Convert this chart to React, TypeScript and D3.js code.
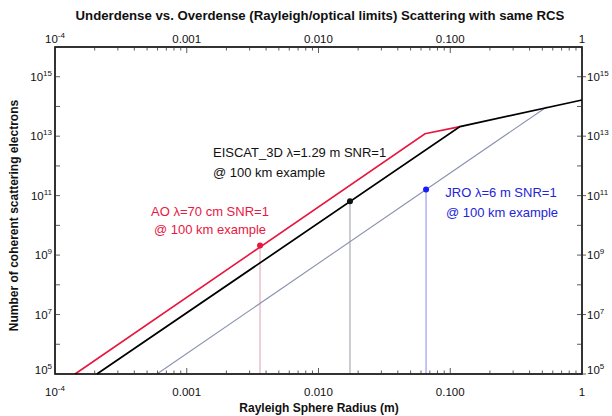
import React from "react";
import * as d3 from "d3";

const title = "Underdense vs. Overdense (Rayleigh/optical limits) Scattering with same RCS";
const xTitle = "Rayleigh Sphere Radius (m)";
const yTitle = "Number of coherent scattering electrons";

const xTickValues = [1e-4, 1e-3, 1e-2, 1e-1, 1];
const xTickLabels = ["10^-4", "0.001", "0.010", "0.100", "1"];
const yTickExponents = [5, 7, 9, 11, 13, 15];

// curves: sphere radius (m) vs electrons, Rayleigh -> optical
const aoRadius = [1.42e-4, 0.0643, 0.1186];
const aoElectrons = [1e5, 1.2e13, 2.1e13];
const eiscatRadius = [2.08e-4, 0.1186, 1];
const eiscatElectrons = [1e5, 2.1e13, 1.65e14];
const jroRadius = [5.94e-4, 0.542];
const jroElectrons = [1e5, 9.8e13];

// SNR=1 @ 100 km points
const markerRadius = [0.0036, 0.01734, 0.0655];
const markerElectrons = [2.1e9, 6.5e10, 1.6e11];

const aoLabel = ["AO \u03bb=70 cm SNR=1", "@ 100 km example"];
const eiscatLabel = ["EISCAT_3D \u03bb=1.29 m SNR=1", "@ 100 km example"];
const jroLabel = ["JRO \u03bb=6 m SNR=1", "@ 100 km example"];

const FONT = "'Liberation Sans', Arial, Helvetica, sans-serif";
const RED = "#e8173f";
const BLUE = "#2424d8";

const W = 612, H = 416;
const m = { left: 55, right: 30, top: 47, bottom: 42 };

function Pow({ x, y, base, exp, anchor }: { x: number; y: number; base: string; exp: string; anchor: string }) {
  return (
    <text x={x} y={y} textAnchor={anchor} fontSize={11.5} fontFamily={FONT} fill="#111">
      {base}
      <tspan dy={-5} fontSize={8}>{exp}</tspan>
    </text>
  );
}

export default function App() {
  const x = d3.scaleLog().domain([1e-4, 1]).range([m.left, W - m.right]);
  const y = d3.scaleLog().domain([1e5, 1e16]).range([H - m.bottom, m.top]);
  const x0 = m.left, x1 = W - m.right, y0 = H - m.bottom, y1 = m.top;

  const line = (rs: number[], ns: number[]) =>
    d3.line<number>().x((_, i) => x(rs[i])).y((_, i) => y(ns[i]))(rs) || "";

  const xMinor = x.ticks();
  const yDecades = d3.range(5, 17);
  const isMajor = (v: number) => Math.abs(Math.log10(v) - Math.round(Math.log10(v))) < 1e-6;

  const dropColors = ["#d9a3b4", "#9a9aa2", "#8a8ae6"];
  const dotColors = [RED, "#111", "#1a1aff"];

  return (
    <div style={{ position: "fixed", left: 0, top: 0 }}>
      <svg width={W} height={H} style={{ display: "block", background: "#fff" }}>
        <text x={320} y={20} textAnchor="middle" fontSize={13.2} fontWeight="bold" fontFamily={FONT} fill="#111">
          {title}
        </text>

        {/* drop lines */}
        {markerRadius.map((r, i) => (
          <line key={"d" + i} x1={x(r)} x2={x(r)} y1={y(markerElectrons[i])} y2={y0} stroke={dropColors[i]} strokeWidth={1} />
        ))}

        {/* curves */}
        <path d={line(jroRadius, jroElectrons)} fill="none" stroke="#8a92b0" strokeWidth={1.1} />
        <path d={line(aoRadius, aoElectrons)} fill="none" stroke={RED} strokeWidth={1.6} />
        <path d={line(eiscatRadius, eiscatElectrons)} fill="none" stroke="#000" strokeWidth={1.7} />

        {markerRadius.map((r, i) => (
          <circle key={"c" + i} cx={x(r)} cy={y(markerElectrons[i])} r={3} fill={dotColors[i]} />
        ))}

        {/* frame + ticks */}
        <rect x={x0} y={y1} width={x1 - x0} height={y0 - y1} fill="none" stroke="#000" strokeWidth={1.6} />
        {xMinor.map((v, i) => {
          const len = isMajor(v) ? 6 : 3.5;
          return (
            <g key={"xt" + i} stroke="#333" strokeWidth={0.8}>
              <line x1={x(v)} x2={x(v)} y1={y0} y2={y0 - len} />
              <line x1={x(v)} x2={x(v)} y1={y1} y2={y1 + len} />
            </g>
          );
        })}
        {yDecades.map((e) => {
          const yy = y(Math.pow(10, e));
          const lab = yTickExponents.includes(e);
          return (
            <g key={"yt" + e} stroke="#333" strokeWidth={0.8}>
              <line x1={x0} x2={x0 + 5} y1={yy} y2={yy} />
              <line x1={lab ? x1 + 4 : x1} x2={x1 - 5} y1={yy} y2={yy} />
            </g>
          );
        })}

        {/* x tick labels */}
        {xTickValues.map((v, i) => {
          const lab = xTickLabels[i];
          const parts = lab.split("^");
          return parts.length > 1 ? (
            <g key={"xl" + i}>
              <Pow x={x(v)} y={396} base={parts[0]} exp={parts[1]} anchor="middle" />
              <Pow x={x(v)} y={43} base={parts[0]} exp={parts[1]} anchor="middle" />
            </g>
          ) : (
            <g key={"xl" + i} fontSize={11.5} fontFamily={FONT} fill="#111" textAnchor="middle">
              <text x={x(v)} y={396}>{lab}</text>
              <text x={x(v)} y={43}>{lab}</text>
            </g>
          );
        })}

        {/* y tick labels */}
        {yTickExponents.map((e) => {
          const yy = y(Math.pow(10, e)) + (e === 5 ? 0 : 4);
          return (
            <g key={"yl" + e}>
              <Pow x={x0 - 3} y={yy} base="10" exp={String(e)} anchor="end" />
              <Pow x={x1 + 5} y={yy} base="10" exp={String(e)} anchor="start" />
            </g>
          );
        })}

        <text x={319} y={412} textAnchor="middle" fontSize={12} fontWeight="bold" fontFamily={FONT} fill="#111">
          {xTitle}
        </text>
        <text transform={`translate(18, ${(y0 + y1) / 2 + 5}) rotate(-90)`} textAnchor="middle" fontSize={12} fontWeight="bold" fontFamily={FONT} fill="#111">
          {yTitle}
        </text>

        {/* annotations */}
        <g fontSize={13} fontFamily={FONT}>
          <text x={213} y={157} fill="#111">{eiscatLabel[0]}</text>
          <text x={213} y={177} fill="#111">{eiscatLabel[1]}</text>
          <text x={210} y={216} fill={RED} textAnchor="middle">{aoLabel[0]}</text>
          <text x={210} y={234} fill={RED} textAnchor="middle">{aoLabel[1]}</text>
          <text x={501} y={197} fill={BLUE} textAnchor="middle">{jroLabel[0]}</text>
          <text x={502} y={217} fill={BLUE} textAnchor="middle">{jroLabel[1]}</text>
        </g>
      </svg>
    </div>
  );
}
